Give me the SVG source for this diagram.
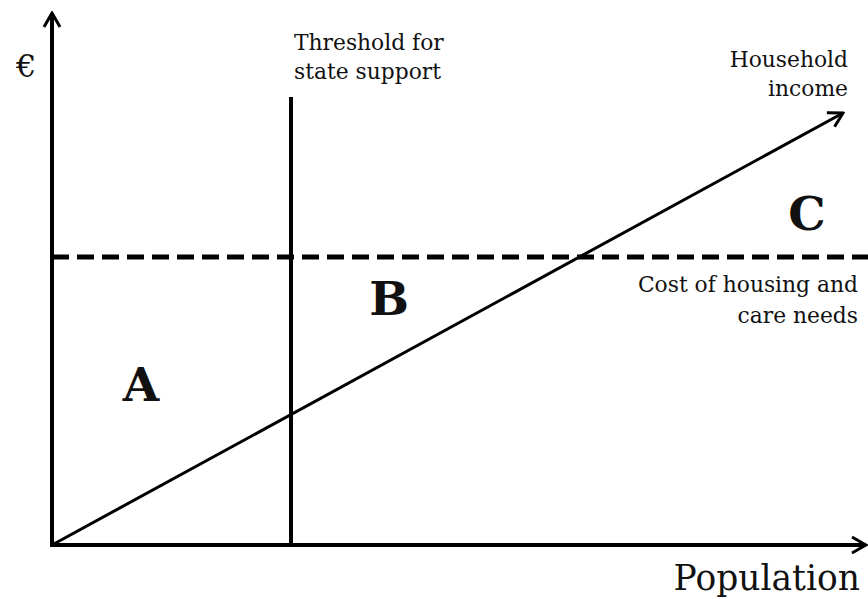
<svg xmlns="http://www.w3.org/2000/svg" width="868" height="599" viewBox="0 0 868 599">
<defs>
<style>
.ax{stroke:#000;stroke-width:4;fill:none}
.t{font-family:"DejaVu Serif","Liberation Serif",serif;fill:#111}
.lbl{font-size:21.8px}
.big{font-size:47px;font-weight:bold;text-anchor:middle}
</style>
<marker id="arr" viewBox="0 0 20 20" refX="18" refY="10" markerWidth="20" markerHeight="20" markerUnits="userSpaceOnUse" orient="auto">
<path d="M4,2 L18,10 L4,18" fill="none" stroke="#000" stroke-width="3"/>
</marker>
</defs>
<rect width="868" height="599" fill="#fff"/>
<g id="connectors">
<line class="ax" x1="52" y1="547" x2="52" y2="13" marker-end="url(#arr)"/>
<line class="ax" x1="50" y1="545" x2="866" y2="545" marker-end="url(#arr)"/>
<line x1="291" y1="97" x2="291" y2="547" stroke="#000" stroke-width="4"/>
<line x1="52" y1="257" x2="868" y2="257" stroke="#000" stroke-width="5" stroke-dasharray="17,8"/>
<line x1="52" y1="545" x2="843" y2="113" stroke="#000" stroke-width="3" marker-end="url(#arr)"/>
</g>
<g id="euro"><text class="t" x="16" y="77" font-size="32">€</text></g>
<g id="threshold"><text class="t lbl" x="294" y="50">Threshold for</text><text class="t lbl" x="294" y="79">state support</text></g>
<g id="income"><text class="t lbl" x="848" y="67" text-anchor="end">Household</text><text class="t lbl" x="848" y="96" text-anchor="end">income</text></g>
<g id="cost"><text class="t lbl" x="858" y="292" text-anchor="end">Cost of housing and</text><text class="t lbl" x="858" y="323" text-anchor="end">care needs</text></g>
<g id="C"><text class="t big" x="807" y="230">C</text></g>
<g id="B"><text class="t big" x="389" y="315">B</text></g>
<g id="A"><text class="t big" x="141" y="401">A</text></g>
<g id="population"><text class="t" x="860" y="590" text-anchor="end" font-size="34.5">Population</text></g>
</svg>
